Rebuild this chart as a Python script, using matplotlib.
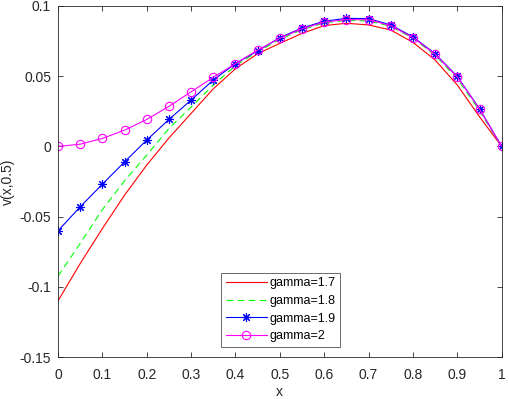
import matplotlib
matplotlib.use("Agg")
import matplotlib.pyplot as plt
import numpy as np

x = [0, 0.05, 0.1, 0.15, 0.2, 0.25, 0.3, 0.35, 0.4, 0.45, 0.5,
     0.55, 0.6, 0.65, 0.7, 0.75, 0.8, 0.85, 0.9, 0.95, 1.0]
v_g17 = [-0.110, -0.0834, -0.0585, -0.0347, -0.0133, 0.0060, 0.0235, 0.0410, 0.0553, 0.0660, 0.0734,
         0.0805, 0.0860, 0.0877, 0.0865, 0.0829, 0.0741, 0.0615, 0.0437, 0.0211, 0.0]
v_g18 = [-0.0924, -0.0691, -0.0450, -0.0245, -0.0062, 0.0128, 0.0280, 0.0437, 0.0575, 0.0675, 0.0762,
         0.0832, 0.0880, 0.0898, 0.0893, 0.0855, 0.0770, 0.0650, 0.0482, 0.0255, 0.0]
v_g19 = [-0.0601, -0.0430, -0.0269, -0.0110, 0.0045, 0.0192, 0.0330, 0.0473, 0.0590, 0.0680, 0.0775,
         0.0843, 0.0892, 0.0912, 0.0910, 0.0865, 0.0780, 0.0660, 0.0498, 0.0268, 0.0]
v_g20 = [0.0, 0.0016, 0.0057, 0.0116, 0.0192, 0.0285, 0.0389, 0.0492, 0.0590, 0.0686, 0.0770,
         0.0838, 0.0885, 0.0903, 0.0902, 0.0860, 0.0775, 0.0656, 0.0494, 0.0266, 0.0]
labels = ["gamma=1.7", "gamma=1.8", "gamma=1.9", "gamma=2"]
xticks = [0, 0.1, 0.2, 0.3, 0.4, 0.5, 0.6, 0.7, 0.8, 0.9, 1]
xticklabels = ["0", "0.1", "0.2", "0.3", "0.4", "0.5", "0.6", "0.7", "0.8", "0.9", "1"]
yticks = [-0.15, -0.1, -0.05, 0, 0.05, 0.1]
yticklabels = ["-0.15", "-0.1", "-0.05", "0", "0.05", "0.1"]

plt.rcParams['font.family'] = ['Liberation Sans', 'DejaVu Sans']
fig = plt.figure(figsize=(5.10, 3.99), dpi=100)
ax = fig.add_axes([0.1137, 0.105, 0.870, 0.880])

lw = 0.8
ax.plot(x, v_g17, color='#ff0000', lw=lw, label=labels[0])
ax.plot(x, v_g18, color='#00ff00', lw=lw, ls=(0, (6, 4)), label=labels[1])
ax.plot(x, v_g19, color='#0000ff', lw=lw, marker=(8, 2, 0), ms=6.5, mew=0.8, label=labels[2])
ax.plot(x, v_g20, color='#ff00ff', lw=lw, marker='o', ms=6, mfc='none', mew=0.8, label=labels[3])

ax.set_xlim(0, 1)
ax.set_ylim(-0.15, 0.1)
ax.set_xticks(xticks)
ax.set_xticklabels(xticklabels)
ax.set_yticks(yticks)
ax.set_yticklabels(yticklabels)
ax.tick_params(direction='in', top=True, right=True, labelsize=10, colors='#262626',
               length=3.5, width=0.6, pad=5)
ax.tick_params(axis='x', pad=7.5)
for s in ax.spines.values():
    s.set_linewidth(0.6)
    s.set_color('#262626')
ax.set_xlabel('x', fontsize=10, color='#262626', labelpad=2.5)
ax.set_ylabel('v(x,0.5)', fontsize=10, color='#262626', labelpad=3)

leg = ax.legend(loc='lower left', bbox_to_anchor=(0.368, 0.03), fontsize=9,
                frameon=True, fancybox=False, edgecolor='#262626', handlelength=3.3,
                handletextpad=0.2, borderpad=0.35, labelspacing=0.45, borderaxespad=0)
leg.get_frame().set_linewidth(0.6)

fig.savefig('out.png', dpi=100)
